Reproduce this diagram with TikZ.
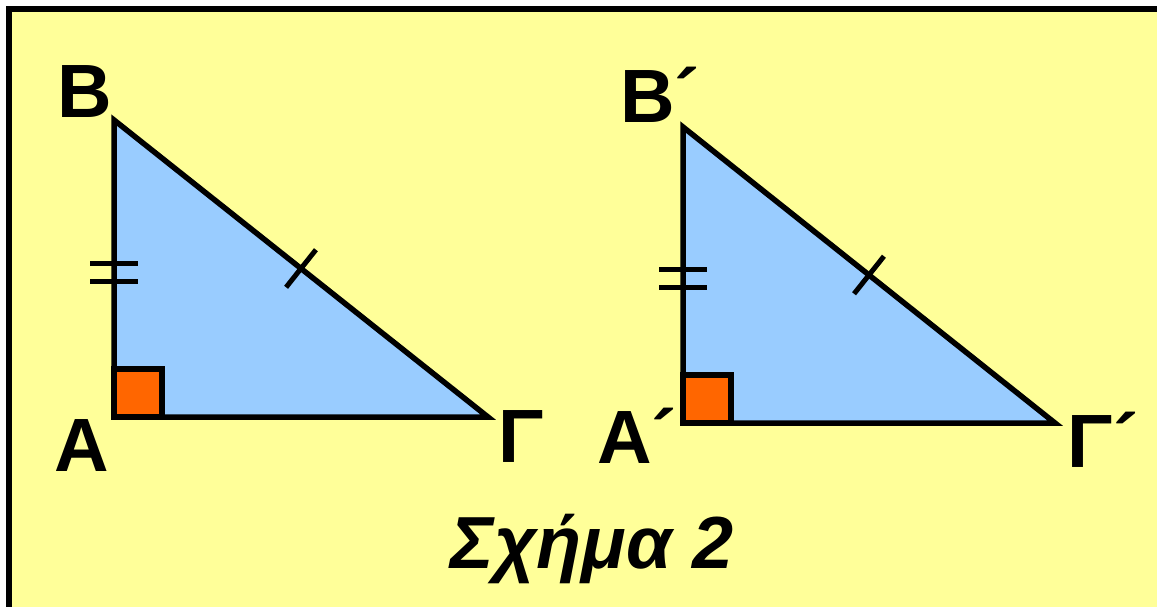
\documentclass[tikz,border=0pt]{standalone}
\usepackage{fontspec}
\setmainfont{Liberation Sans}
\usetikzlibrary{calc}
\definecolor{paper}{HTML}{FFFF99}
\definecolor{trifill}{HTML}{99CCFF}
\definecolor{rightbox}{HTML}{FF6600}

\begin{document}
\begin{tikzpicture}[
    x=0.02cm, y=-0.02cm,
    frame/.style={draw=black, line width=0.12cm, fill=paper},
    tri/.style={draw=black, line width=0.11cm, fill=trifill},
    anglebox/.style={draw=black, line width=0.11cm, fill=rightbox},
    tickmark/.style={draw=black, line width=0.1cm},
    vlabel/.style={font=\fontsize{43}{48}\selectfont\bfseries, inner sep=0pt, anchor=base},
    caption/.style={font=\fontsize{42}{48}\selectfont\bfseries\itshape, inner sep=0pt, anchor=base}
]

\useasboundingbox (0,0) rectangle (1157,606);
\clip (0,0) rectangle (1157,606);

% Yellow sheet (runs off the right and bottom)
\draw[frame] (9,9) rectangle (1185,635);

% First triangle
\coordinate (A) at (114,417);
\coordinate (B) at (114,120);
\coordinate (G) at (488,417);
\draw[tri] (A) -- (B) -- (G) -- cycle;
\draw[anglebox] (A) rectangle ++(48,-48);
\draw[tickmark] ($(A)+(-24,-154)$) -- ++(48,0);
\draw[tickmark] ($(A)+(-24,-136)$) -- ++(48,0);
\coordinate (mBG) at ($(B)!0.5!(G)$);
\draw[tickmark] ($(mBG)!0.48cm!90:(G)$) -- ($(mBG)!0.48cm!-90:(G)$);

% Second triangle
\coordinate (Ap) at (683,423);
\coordinate (Bp) at (683,127);
\coordinate (Gp) at (1055,423);
\draw[tri] (Ap) -- (Bp) -- (Gp) -- cycle;
\draw[anglebox] (Ap) rectangle ++(48,-48);
\draw[tickmark] ($(Ap)+(-24,-154)$) -- ++(48,0);
\draw[tickmark] ($(Ap)+(-24,-136)$) -- ++(48,0);
\coordinate (mBGp) at ($(Bp)!0.5!(Gp)$);
\draw[tickmark] ($(mBGp)!0.48cm!90:(Gp)$) -- ($(mBGp)!0.48cm!-90:(Gp)$);

% Vertex labels
\node[vlabel] (labB) at (85,117) {B};
\node[vlabel] (labA) at (82,471) {A};
\node[vlabel] (labG) at (521,462) {Γ};
\node[vlabel] (labBp) at (660,122) {B´};
\node[vlabel] (labAp) at (637,463) {A´};
\node[vlabel] (labGp) at (1103,467) {Γ´};

% Caption
\node[caption] (caption) at (592,568) {Σχήμα 2};

\end{tikzpicture}
\end{document}
